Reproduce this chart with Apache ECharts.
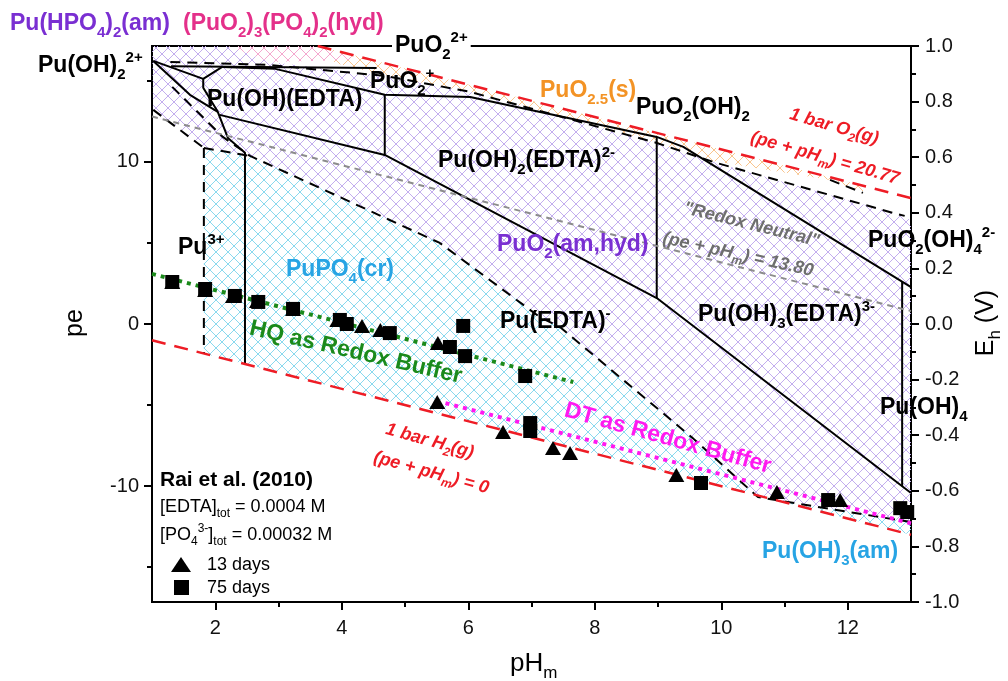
<!DOCTYPE html>
<html>
<head>
<meta charset="utf-8">
<script src="https://cdn.jsdelivr.net/npm/echarts@6/dist/echarts.min.js"></script>
<style>
  html, body { margin: 0; padding: 0; background: #fff; }
  #chart { width: 1008px; height: 681px; }
</style>
</head>
<body>
<div id="chart"></div>
<script>
// axis ticks
const phMajor = [2, 4, 6, 8, 10, 12]
const phMinor = [3, 5, 7, 9, 11]
const peMajor = [-10, 0, 10]
const peMinor = [-15, -5, 5, 15]

// Rai et al. (2010) measurements [pHm, pe]
const days13 = [[1.32, 2.59], [1.84, 2.10], [2.28, 1.73], [2.66, 1.42], [3.23, 0.93], [3.93, 0.25],
  [4.32, -0.12], [4.61, -0.37], [5.52, -1.17], [5.51, -4.81], [6.55, -6.67], [7.34, -7.65],
  [7.61, -7.96], [9.29, -9.32], [10.88, -10.37], [11.88, -10.86]]
const days75 = [[1.32, 2.59], [1.84, 2.16], [2.31, 1.73], [2.68, 1.36], [3.23, 0.93], [3.97, 0.25],
  [4.08, 0.0], [4.76, -0.56], [5.71, -1.42], [5.92, -0.12], [5.95, -1.98], [6.90, -3.21],
  [6.98, -6.11], [6.98, -6.60], [9.68, -9.81], [11.69, -10.86], [12.83, -11.36], [12.94, -11.60]]

// reference lines
const o2Line = [[3.62, 17.15], [13, 7.77]]
const h2Line = [[1, -1], [13, -13]]
const neutralLine = [[1, 12.8], [13, 0.8]]
const hqBuffer = [[1, 3.09], [7.66, -3.58]]
const dtBuffer = [[5.64, -4.88], [13, -12.3]]

// aqueous species boundaries (solid)
const solidBounds = [
  [[1.3, 15.9], [4.55, 15.8]],
  [[2.11, 15.86], [2.95, 15.74], [4.68, 14.14], [6.03, 14.01], [8.98, 11.54], [9.40, 10.93], [13.0, 2.28]],
  [[1.02, 16.23], [1.81, 15.12], [2.11, 15.86]],
  [[1.81, 15.12], [1.81, 14.57], [2.04, 13.09], [2.2, 11.48], [2.47, 10.56], [2.47, -2.47]],
  [[1.02, 16.23], [1.6, 14.14], [2.04, 13.09]],
  [[2.07, 12.9], [4.68, 10.43], [8.98, 1.6], [13.0, -10.43]],
  [[4.68, 14.14], [4.68, 10.43]],
  [[8.98, 11.54], [8.98, 1.6]],
  [[12.86, 2.62], [12.86, -10.0]]
]

// solid phase boundaries (dashed)
const dashedBounds = [
  [[1.29, 16.17], [2.82, 15.99], [4.68, 15.31], [6.03, 14.32], [8.98, 11.17], [9.87, 10.0], [12.72, 6.85], [12.9, 6.67]],
  [[11.72, 8.89], [12.24, 8.09]],
  [[1.02, 13.21], [1.82, 10.86]],
  [[1.32, 14.63], [2.12, 11.54], [2.55, 10.37], [5.55, 5.0], [7.13, 0.43], [7.45, -0.19], [9.55, -7.04], [10.58, -10.68], [13.0, -12.22]],
  [[1.82, 10.86], [1.82, -1.82]],
  [[1.82, 10.86], [2.55, 10.37]]
]

// solid phase fields
const purpleField = [[1.0, 17.15], [2.2, 17.15], [2.87, 16.17], [4.68, 15.31], [6.03, 14.32], [8.98, 11.17],
  [9.87, 10.0], [12.72, 6.85], [13.0, 6.42], [13.0, -12.22], [10.58, -10.68], [9.55, -7.04], [7.45, -0.19],
  [7.13, 0.43], [5.55, 5.0], [2.55, 10.37], [1.82, 10.86], [1.02, 13.21]]
const cyanField = [[1.82, 10.86], [2.55, 10.37], [5.55, 5.0], [7.13, 0.43], [7.45, -0.19], [9.55, -7.04],
  [10.58, -10.68], [13.0, -12.22], [13.0, -13.0], [1.82, -1.82]]
const orangeField = [[3.62, 17.15], [12.24, 8.53], [12.24, 8.09], [11.72, 8.89], [9.87, 10.06], [8.98, 11.17],
  [6.03, 14.32], [4.68, 15.31], [3.9, 16.1]]
const pinkField = [[2.2, 17.15], [3.62, 17.15], [4.3, 16.3], [2.87, 16.17]]

const FONT = '"Liberation Sans", Arial, sans-serif'

// crosshatch fill
function hatch(color) {
  const n = 12
  const c = document.createElement('canvas')
  c.width = n
  c.height = n
  const g = c.getContext('2d')
  g.strokeStyle = color
  g.lineWidth = 1
  g.beginPath()
  g.moveTo(-1, -1); g.lineTo(n + 1, n + 1)
  g.moveTo(n + 1, -1); g.lineTo(-1, n + 1)
  g.stroke()
  return { image: c, repeat: 'repeat' }
}

function field(pts, color) {
  const fill = hatch(color)
  return {
    type: 'custom', data: pts, z: 1, silent: true, encode: { x: 0, y: 1 },
    renderItem: (params, api) => params.dataIndex === 0 ? {
      type: 'polygon',
      shape: { points: pts.map(p => api.coord(p)) },
      style: { fill: fill, stroke: null }
    } : null
  }
}

function line(pts, color, width, type, z) {
  return {
    type: 'line', data: pts, showSymbol: false, symbol: 'none', silent: true, z: z || 3,
    lineStyle: { color: color, width: width, type: type, opacity: 1 }
  }
}

function richFor(size, color, o) {
  const base = {
    fontFamily: FONT, fill: color,
    fontWeight: o.normal ? 'normal' : 'bold',
    fontStyle: o.italic ? 'italic' : 'normal'
  }
  const small = Math.round(size * 0.66)
  return {
    m: Object.assign({}, base, { fontSize: size, lineHeight: Math.round(size * 1.4) }),
    d: Object.assign({}, base, { fontSize: small, lineHeight: small, verticalAlign: 'bottom' }),
    u: Object.assign({}, base, { fontSize: small, lineHeight: small, verticalAlign: 'top' })
  }
}

function label(x, y, text, color, size, o) {
  o = o || {}
  return {
    type: 'text', x: x, y: y, z: 100, silent: true,
    rotation: (o.rot || 0) * Math.PI / 180,
    style: {
      text: text, rich: richFor(size, color, o), fill: color,
      align: o.align || 'left', verticalAlign: 'middle',
      backgroundColor: o.bg, padding: o.pad
    }
  }
}

const PURPLE = '#7a2fd2', PINK = '#e4308a', ORANGE = '#f39325', SKY = '#27a4e4'
const RED = '#ee1c25', GRAY = '#6e6e6e', GREEN = '#1b8a1b', MAGENTA = '#ff19f0'

const texts = [
  label(10, 24, '{m|Pu(HPO}{d|4}{m|)}{d|2}{m|(am)}', PURPLE, 23),
  label(183, 24, '{m|(PuO}{d|2}{m|)}{d|3}{m|(PO}{d|4}{m|)}{d|2}{m|(hyd)}', PINK, 23),
  label(38, 66, '{m|Pu(OH)}{d|2}{u|2+}', '#000', 23),
  label(392, 46, '{m|PuO}{d|2}{u|2+}', '#000', 23, { bg: '#fff', pad: [0, 3, 0, 3] }),
  label(370, 82, '{m|PuO}{d|2}{u|+}', '#000', 23),
  label(207, 100, '{m|Pu(OH)(EDTA)}', '#000', 23),
  label(540, 91, '{m|PuO}{d|2.5}{m|(s)}', ORANGE, 23),
  label(636, 108, '{m|PuO}{d|2}{m|(OH)}{d|2}', '#000', 23),
  label(790, 114, '{m|1 bar O}{d|2}{m|(g)}', RED, 18, { italic: true, rot: -16 }),
  label(751, 137, '{m|(pe + pH}{d|m}{m|) = 20.77}', RED, 18, { italic: true, rot: -16 }),
  label(438, 161, '{m|Pu(OH)}{d|2}{m|(EDTA)}{u|2-}', '#000', 23),
  label(684, 208, '{m|"Redox Neutral"}', GRAY, 18, { italic: true, rot: -14 }),
  label(663, 238, '{m|(pe + pH}{d|m}{m|) = 13.80}', GRAY, 18, { italic: true, rot: -12.5 }),
  label(868, 241, '{m|PuO}{d|2}{m|(OH)}{d|4}{u|2-}', '#000', 23),
  label(178, 248, '{m|Pu}{u|3+}', '#000', 23),
  label(286, 270, '{m|PuPO}{d|4}{m|(cr)}', SKY, 23),
  label(497, 245, '{m|PuO}{d|2}{m|(am,hyd)}', PURPLE, 23),
  label(250, 328, '{m|HQ as Redox Buffer}', GREEN, 23, { rot: -13 }),
  label(500, 322, '{m|Pu(EDTA)}{u|-}', '#000', 23),
  label(698, 315, '{m|Pu(OH)}{d|3}{m|(EDTA)}{u|3-}', '#000', 23),
  label(565, 410, '{m|DT as Redox Buffer}', MAGENTA, 23, { rot: -15.5 }),
  label(880, 408, '{m|Pu(OH)}{d|4}', '#000', 23),
  label(386, 429, '{m|1 bar H}{d|2}{m|(g)}', RED, 18, { italic: true, rot: -15.5 }),
  label(374, 457, '{m|(pe + pH}{d|m}{m|) = 0}', RED, 18, { italic: true, rot: -15.5 }),
  label(762, 552, '{m|Pu(OH)}{d|3}{m|(am)}', SKY, 23),
  label(160, 480, '{m|Rai et al. (2010)}', '#000', 21),
  label(160, 507, '{m|[EDTA]}{d|tot}{m| = 0.0004 M}', '#000', 18, { normal: true }),
  label(160, 535, '{m|[PO}{d|4}{u|3-}{m|]}{d|tot}{m| = 0.00032 M}', '#000', 18, { normal: true }),
  label(207, 565, '{m|13 days}', '#000', 18, { normal: true }),
  label(207, 588, '{m|75 days}', '#000', 18, { normal: true }),
  label(75, 323, '{m|pe}', '#000', 25, { normal: true, rot: 90, align: 'center' }),
  label(510, 664, '{m|pH}{d|m}', '#000', 26, { normal: true }),
  label(986, 323, '{m|E}{d|h}{m| (V)}', '#000', 25, { normal: true, rot: 90, align: 'center' }),
  // legend keys
  { type: 'polygon', z: 100, silent: true, shape: { points: [[171, 572], [191, 572], [181, 557]] }, style: { fill: '#000' } },
  { type: 'rect', z: 100, silent: true, shape: { x: 174, y: 580, width: 15, height: 15 }, style: { fill: '#000' } }
]

const tickStyle = { color: '#000', width: 2 }
const mainLine = { show: true, onZero: false, lineStyle: { color: '#000', width: 2 } }
const labelStyle = { color: '#111', fontSize: 20, fontFamily: FONT }

const chart = echarts.init(document.getElementById('chart'), null, { renderer: 'canvas' })

const option = {
  animation: false,
  backgroundColor: '#fff',
  grid: { left: 152, right: 97, top: 46, bottom: 79, show: true, borderColor: '#000', borderWidth: 2, backgroundColor: 'transparent' },
  xAxis: [
    {
      type: 'value', position: 'bottom', min: 1, max: 13,
      axisLine: mainLine, splitLine: { show: false },
      axisLabel: Object.assign({}, labelStyle, { customValues: phMajor, margin: 16 }),
      axisTick: { length: 8, customValues: phMajor, lineStyle: tickStyle }
    },
    {
      type: 'value', position: 'bottom', min: 1, max: 13,
      axisLine: { show: false, onZero: false }, splitLine: { show: false }, axisLabel: { show: false },
      axisTick: { length: 5, customValues: phMinor, lineStyle: tickStyle }
    }
  ],
  yAxis: [
    {
      type: 'value', position: 'left', min: -17.15, max: 17.15,
      axisLine: mainLine, splitLine: { show: false },
      axisLabel: Object.assign({}, labelStyle, { customValues: peMajor, margin: 13 }),
      axisTick: { length: 8, customValues: peMajor, lineStyle: tickStyle }
    },
    {
      type: 'value', position: 'left', min: -17.15, max: 17.15,
      axisLine: { show: false, onZero: false }, splitLine: { show: false }, axisLabel: { show: false },
      axisTick: { length: 5, customValues: peMinor, lineStyle: tickStyle }
    },
    {
      type: 'value', position: 'right', min: -1, max: 1, interval: 0.2,
      axisLine: mainLine, splitLine: { show: false },
      axisLabel: Object.assign({}, labelStyle, { margin: 14, formatter: v => v.toFixed(1) }),
      axisTick: { length: 8, lineStyle: tickStyle },
      minorTick: { show: true, splitNumber: 2, length: 5, lineStyle: tickStyle },
      minorSplitLine: { show: false }
    }
  ],
  graphic: texts,
  series: [
    field(purpleField, '#c3aeee'),
    field(cyanField, '#8ad9ee'),
    field(orangeField, '#f8c58f'),
    field(pinkField, '#f4a8cf'),
    ...dashedBounds.map(p => line(p, '#000', 2, [10, 7], 3)),
    ...solidBounds.map(p => line(p, '#000', 2, 'solid', 3)),
    line(neutralLine, '#8c8c8c', 2, [6, 5], 4),
    line(o2Line, RED, 2.5, [14, 9], 4),
    line(h2Line, RED, 2.5, [14, 9], 4),
    line(hqBuffer, GREEN, 4, [4, 5], 4),
    line(dtBuffer, MAGENTA, 4, [4, 5], 4),
    { name: '13 days', type: 'scatter', data: days13, symbol: 'triangle', symbolSize: [16, 14], itemStyle: { color: '#000', opacity: 1 }, z: 6, silent: true },
    { name: '75 days', type: 'scatter', data: days75, symbol: 'rect', symbolSize: 14, itemStyle: { color: '#000', opacity: 1 }, z: 5, silent: true }
  ]
}

chart.setOption(option)
</script>
</body>
</html>
